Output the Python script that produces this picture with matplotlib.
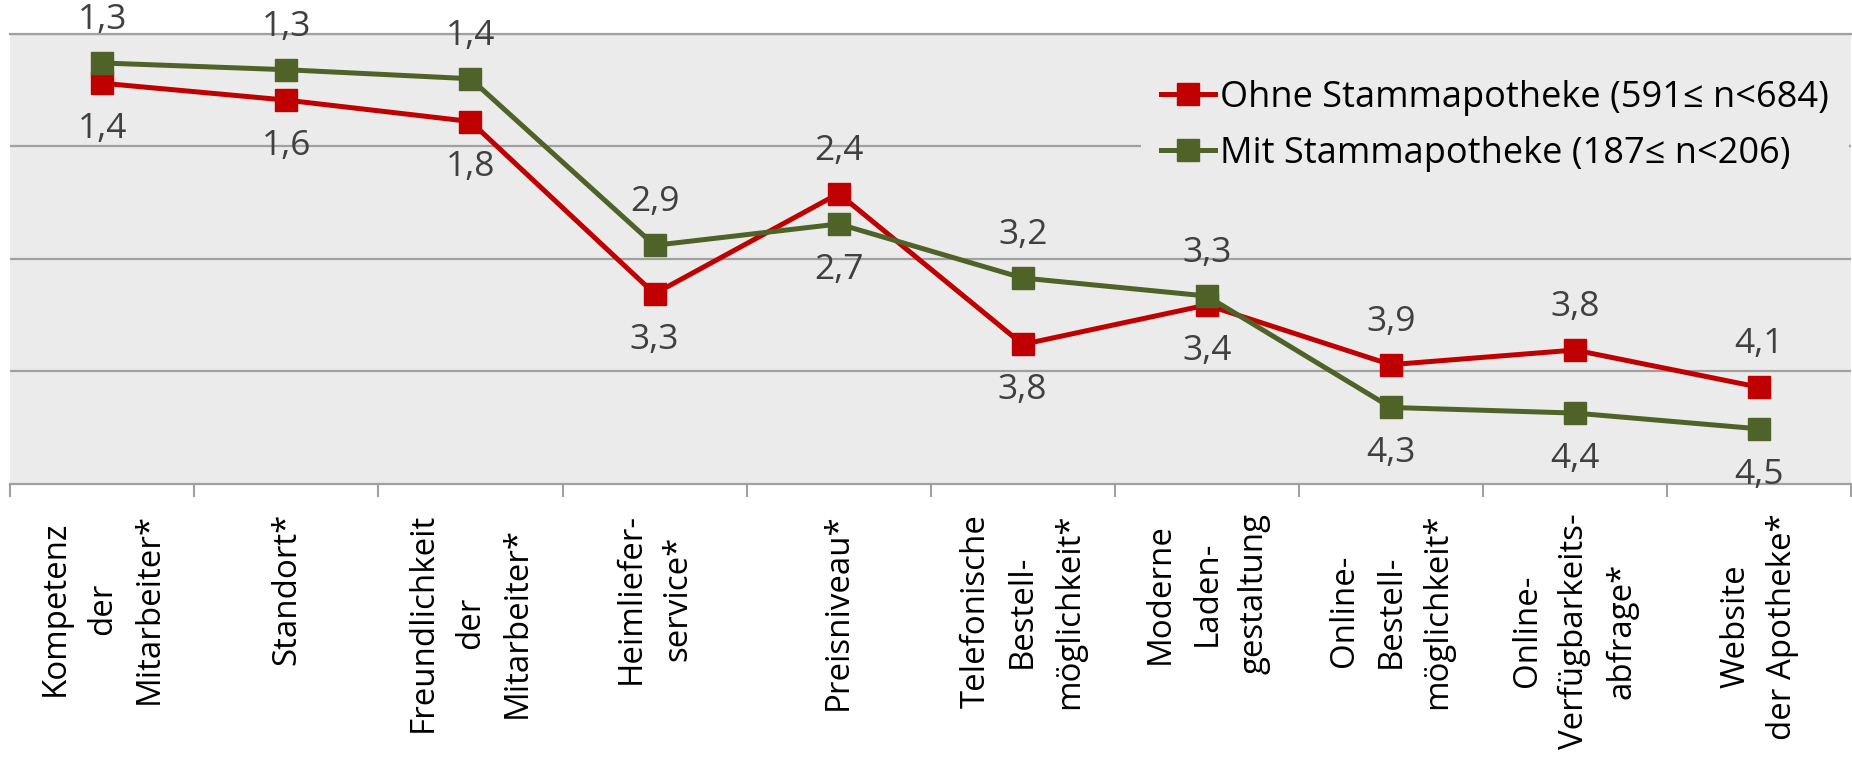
import numpy as np
import matplotlib
matplotlib.use('Agg')
import matplotlib.pyplot as plt

plt.rcParams['font.family'] = ['Open Sans', 'DejaVu Sans']

categories = ['Kompetenz\nder\nMitarbeiter*', 'Standort*', 'Freundlichkeit\nder\nMitarbeiter*',
              'Heimliefer-\nservice*', 'Preisniveau*', 'Telefonische\nBestell-\nmöglichkeit*',
              'Moderne\nLaden-\ngestaltung', 'Online-\nBestell-\nmöglichkeit*',
              'Online-\nVerfügbarkeits-\nabfrage*', 'Website\nder Apotheke*']

# mean ratings (1 = best)
ohne = [1.44, 1.59, 1.78, 3.31, 2.42, 3.76, 3.41, 3.94, 3.81, 4.14]
mit = [1.26, 1.32, 1.40, 2.88, 2.69, 3.17, 3.33, 4.32, 4.37, 4.51]

label_ohne = 'Ohne Stammapotheke (591\u2264 n<684)'
label_mit = 'Mit Stammapotheke (187\u2264 n<206)'

red = '#C00000'
green = '#4F6228'
grid_col = '#A0A0A0'

fig = plt.figure(figsize=(18.52, 7.65), dpi=100)
ax = fig.add_axes([10.3/1852, 1-484/765, (1851-10.3)/1852, (484-33.7)/765])
ax.set_facecolor('#EBEBEB')

x = np.arange(len(categories))
ax.plot(x, ohne, color=red, lw=3.6, marker='s', ms=16, label=label_ohne, zorder=3)
ax.plot(x, mit, color=green, lw=3.6, marker='s', ms=16, label=label_mit, zorder=4)

# data labels: the higher point (lower value) above, the other below
for i in x:
    for vals, other in ((ohne, mit), (mit, ohne)):
        v = vals[i]
        dy = 31 if v <= other[i] else -33
        ax.annotate(f'{v:.1f}'.replace('.', ','), (i, v), xytext=(0, dy),
                    textcoords='offset points', ha='center', va='center',
                    fontsize=25.5, color='#404040', zorder=5)

ax.set_xlim(-0.5, len(categories)-0.5)
ax.set_ylim(5, 1)
ax.set_yticks([1, 2, 3, 4])
ax.yaxis.grid(True, color=grid_col, lw=1.6)
ax.tick_params(axis='y', length=0, labelleft=False)
ax.set_axisbelow(True)

ax.set_xticks(np.arange(-0.5, len(categories)))
ax.set_xticklabels([])
ax.tick_params(axis='x', which='major', length=9.5, width=1.5, color=grid_col)
ax.set_xticks(x, categories, minor=True)
ax.tick_params(axis='x', which='minor', length=0, pad=21, labelsize=23.8)
for t in ax.get_xticklabels(minor=True):
    t.set_rotation(90)
    t.set_linespacing(1.55)
    t.set_va('top')
    t.set_ha('center')

for s in ['left', 'right']:
    ax.spines[s].set_visible(False)
for s in ['top', 'bottom']:
    ax.spines[s].set_color(grid_col)
    ax.spines[s].set_linewidth(1.6)

leg = ax.legend(loc='upper left', bbox_to_anchor=(1141/1852, 1-60/765),
                bbox_transform=fig.transFigure, fontsize=26, frameon=True,
                facecolor='#EBEBEB', edgecolor='none', framealpha=1,
                borderaxespad=0, borderpad=0.55, handlelength=1.5,
                handletextpad=0.15, labelspacing=0.55, fancybox=False)

fig.savefig('out.png', dpi=100)
